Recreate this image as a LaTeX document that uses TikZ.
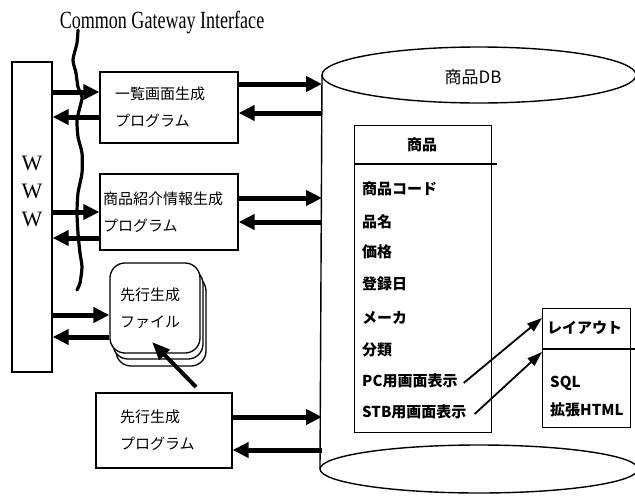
\documentclass[tikz,border=0pt]{standalone}
\usepackage{fontspec}
\setmainfont{Liberation Serif}
\newfontfamily\jp{Noto Sans CJK JP}
\usetikzlibrary{arrows.meta,shapes.geometric}
\begin{document}
\begin{tikzpicture}[x=1pt,y=-1pt,
  box/.style={draw,line width=1.3pt,inner xsep=15pt,inner ysep=0pt,align=left,fill=white,
    font=\jp\fontsize{15}{27}\selectfont},
  big/.style={line width=5pt,-{Triangle[length=16pt,width=15pt]}},
  thinarrow/.style={line width=1.8pt,-{Triangle[length=15pt,width=10pt]}},
  item/.style={anchor=west,inner sep=0pt,font=\jp\bfseries\fontsize{15}{15}\selectfont},
  frame/.style={draw,line width=1.3pt}]
\useasboundingbox (0,0) rectangle (635,496);
% title
\node[font=\fontsize{19}{19}\selectfont,inner sep=0pt,xscale=0.95,yscale=1.3,transform shape] (cgi) at (162,22) {Common Gateway Interface};
% WWW
\node[frame,minimum width=40pt,minimum height=310pt,inner sep=0pt] (www) at (32,217) {};
\node[font=\fontsize{22}{28}\selectfont,align=center,inner sep=0pt] (wwwt) at (32,191) {W\\W\\W};
% boxes
\node[box,text width=108pt,minimum height=71pt] (b1) at (169,107.5) {一覧画面生成\\プログラム};
\node[box,inner xsep=3pt,text width=132pt,minimum height=76pt] (b2) at (169,212) {商品紹介情報生成\\プログラム};
\node[box,inner xsep=10pt,text width=70pt,minimum height=90pt,rounded corners=15pt] (f3) at (161,321) {};
\node[box,inner xsep=10pt,text width=70pt,minimum height=90pt,rounded corners=15pt] (f2) at (158,314) {};
\node[box,inner xsep=10pt,text width=70pt,minimum height=90pt,rounded corners=15pt] (f1) at (155,308) {先行生成\\ファイル};
\node[box,inner xsep=24pt,text width=88pt,minimum height=75pt] (b4) at (164,430.5) {先行生成\\プログラム};
% CGI line
\draw[line width=3.2pt,line join=round,line cap=round] plot[smooth,tension=0.4] coordinates
 {(78,30) (77,43) (73,60) (76,73) (78,87) (82,97) (80,107) (77,120) (78,137) (82,153) (82,173)
  (78,193) (77,213) (78,233) (80,253) (82,267) (80,283) (77,290)};
% DB cylinder
\coordinate (dbl) at (322,0);
\draw[line width=1.4pt] (479,75) ellipse [x radius=157pt,y radius=28pt];
\draw[line width=1.4pt] (479,469) ellipse [x radius=159pt,y radius=24pt];
\draw[line width=1.4pt] (322,75) -- (320,469);
\node[font=\jp\fontsize{17}{17}\selectfont,inner sep=0pt] (dbt) at (473,77) {商品DB};
% table
\node[frame,anchor=north west,minimum width=137pt,minimum height=307pt,inner sep=0pt] (tbl) at (354,125) {};
\draw[line width=1.3pt] (354,164) -- (497,164);
\node[item,anchor=center] (th) at (422,145) {商品};
\node[item] (i1) at (362,189) {商品コード};
\node[item] (i2) at (362,222) {品名};
\node[item] (i3) at (362,252) {価格};
\node[item] (i4) at (362,284) {登録日};
\node[item] (i5) at (362,318) {メーカ};
\node[item] (i6) at (362,350) {分類};
\node[item] (i7) at (362,381) {PC用画面表示};
\node[item] (i8) at (362,412) {STB用画面表示};
% layout
\node[frame,anchor=north west,minimum width=88pt,minimum height=119pt,inner sep=0pt] (lay) at (542,308) {};
\draw[line width=1.3pt] (542,349) -- (636,349);
\node[item] (lh) at (547,328) {レイアウト};
\node[item] (l1) at (550,383) {SQL};
\node[item] (l2) at (550,410) {拡張HTML};
\draw[thinarrow] ([xshift=6pt,yshift=-2pt]i7.east) -- ([yshift=10pt]lay.west |- lh.center);
\draw[thinarrow] ([xshift=8pt,yshift=-2pt]i8.east) -- (lay.west |- 0,352);
% arrows WWW <-> programs
\draw[big] (www.east |- 0,92) -- (b1.west |- 0,92);
\draw[big] (b1.west |- 0,117) -- (www.east |- 0,117);
\draw[big] (www.east |- 0,212) -- (b2.west |- 0,212);
\draw[big] (b2.west |- 0,238) -- (www.east |- 0,238);
\draw[big] (www.east |- 0,315) -- (f1.west |- 0,315);
\draw[big] (f1.west |- 0,337) -- (www.east |- 0,337);
% arrows programs <-> DB
\draw[big] (b1.east |- 0,84) -- (dbl |- 0,84);
\draw[big] (dbl |- 0,113) -- (b1.east |- 0,113);
\draw[big] (b2.east |- 0,198) -- (dbl |- 0,198);
\draw[big] (dbl |- 0,222) -- (b2.east |- 0,222);
\draw[big] (b4.east |- 0,417) -- (dbl |- 0,417);
\draw[big] (dbl |- 0,450) -- (b4.east |- 0,450);
% generator -> file
\draw[line width=4pt,-{Triangle[length=18pt,width=14pt]}] (196,387) -- (152,342);
\end{tikzpicture}
\end{document}
